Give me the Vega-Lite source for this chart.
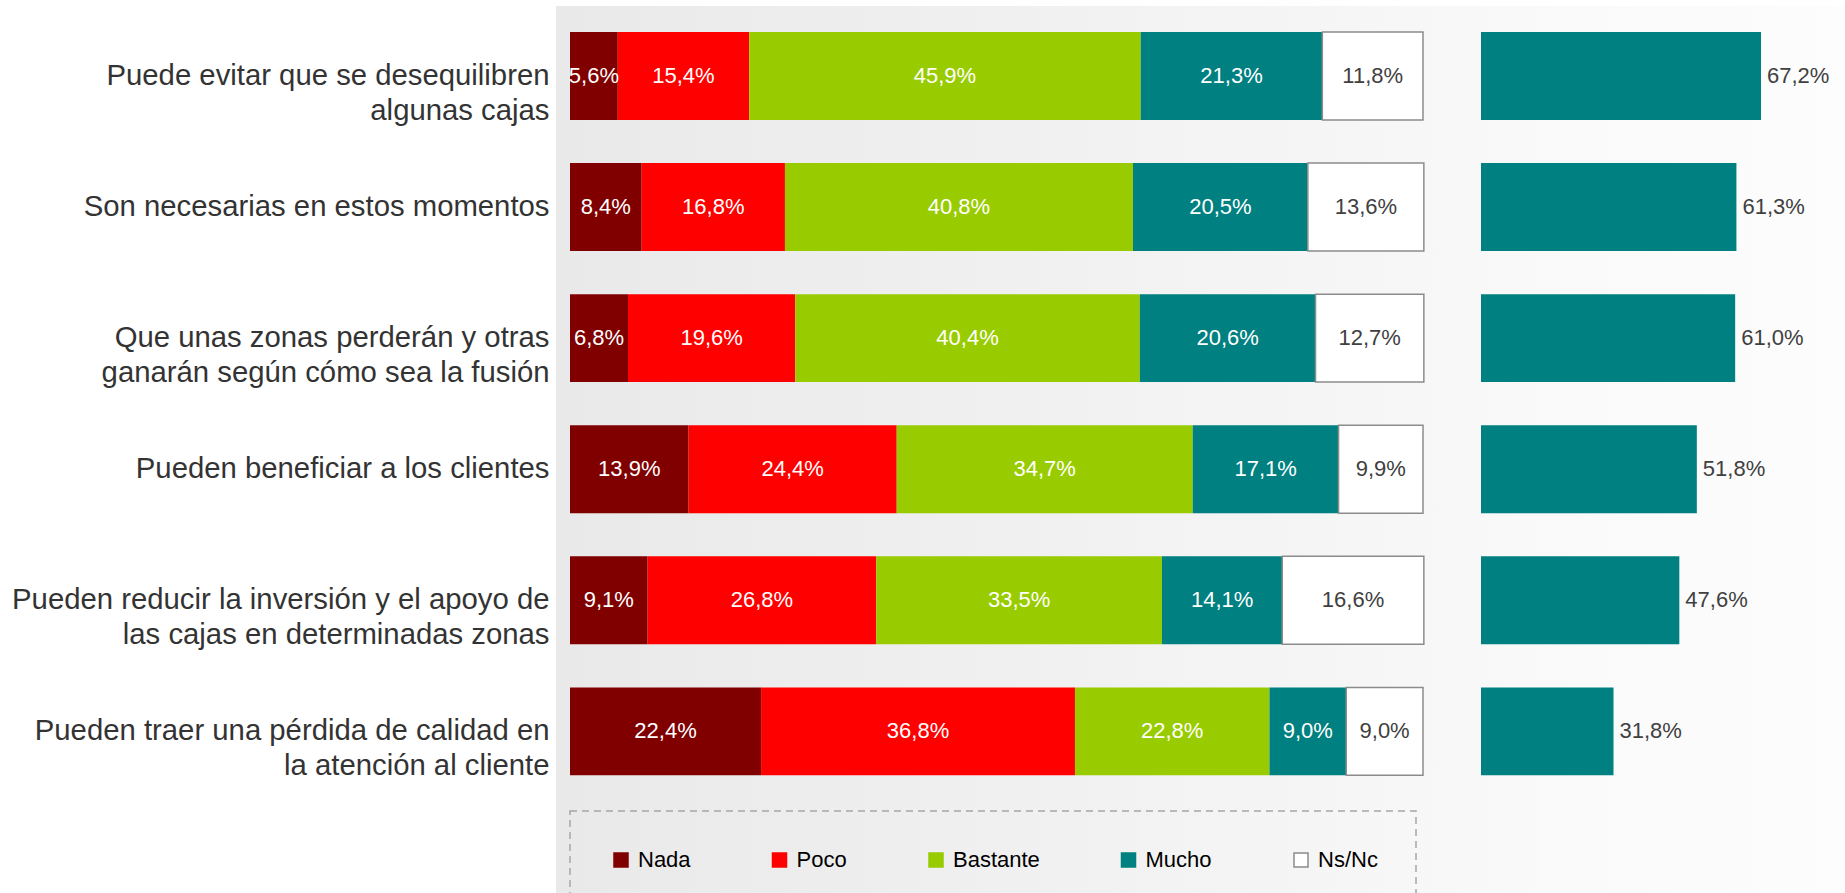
{
  "$schema": "https://vega.github.io/schema/vega-lite/v6.json",
  "width": 1289,
  "height": 887,
  "padding": {"left": 6, "top": 6, "right": 0, "bottom": 0},
  "background": "#ffffff",
  "view": {
    "stroke": null,
    "fill": {
      "gradient": "linear",
      "x1": 0, "y1": 0, "x2": 1, "y2": 0,
      "stops": [
        {"offset": 0, "color": "#e9e9e9"},
        {"offset": 0.4, "color": "#f1f1f1"},
        {"offset": 0.75, "color": "#f9f9f9"},
        {"offset": 1, "color": "#fdfdfd"}
      ]
    }
  },
  "datasets": {
    "stack": [
      {"q": "Puede evitar que se desequilibren|algunas cajas", "cat": "Nada", "order": 1, "value": 5.6},
      {"q": "Puede evitar que se desequilibren|algunas cajas", "cat": "Poco", "order": 2, "value": 15.4},
      {"q": "Puede evitar que se desequilibren|algunas cajas", "cat": "Bastante", "order": 3, "value": 45.9},
      {"q": "Puede evitar que se desequilibren|algunas cajas", "cat": "Mucho", "order": 4, "value": 21.3},
      {"q": "Puede evitar que se desequilibren|algunas cajas", "cat": "Ns/Nc", "order": 5, "value": 11.8},
      {"q": "Son necesarias en estos momentos", "cat": "Nada", "order": 1, "value": 8.4},
      {"q": "Son necesarias en estos momentos", "cat": "Poco", "order": 2, "value": 16.8},
      {"q": "Son necesarias en estos momentos", "cat": "Bastante", "order": 3, "value": 40.8},
      {"q": "Son necesarias en estos momentos", "cat": "Mucho", "order": 4, "value": 20.5},
      {"q": "Son necesarias en estos momentos", "cat": "Ns/Nc", "order": 5, "value": 13.6},
      {"q": "Que unas zonas perderán y otras|ganarán según cómo sea la fusión", "cat": "Nada", "order": 1, "value": 6.8},
      {"q": "Que unas zonas perderán y otras|ganarán según cómo sea la fusión", "cat": "Poco", "order": 2, "value": 19.6},
      {"q": "Que unas zonas perderán y otras|ganarán según cómo sea la fusión", "cat": "Bastante", "order": 3, "value": 40.4},
      {"q": "Que unas zonas perderán y otras|ganarán según cómo sea la fusión", "cat": "Mucho", "order": 4, "value": 20.6},
      {"q": "Que unas zonas perderán y otras|ganarán según cómo sea la fusión", "cat": "Ns/Nc", "order": 5, "value": 12.7},
      {"q": "Pueden beneficiar a los clientes", "cat": "Nada", "order": 1, "value": 13.9},
      {"q": "Pueden beneficiar a los clientes", "cat": "Poco", "order": 2, "value": 24.4},
      {"q": "Pueden beneficiar a los clientes", "cat": "Bastante", "order": 3, "value": 34.7},
      {"q": "Pueden beneficiar a los clientes", "cat": "Mucho", "order": 4, "value": 17.1},
      {"q": "Pueden beneficiar a los clientes", "cat": "Ns/Nc", "order": 5, "value": 9.9},
      {"q": "Pueden reducir la inversión y el apoyo de|las cajas en determinadas zonas", "cat": "Nada", "order": 1, "value": 9.1},
      {"q": "Pueden reducir la inversión y el apoyo de|las cajas en determinadas zonas", "cat": "Poco", "order": 2, "value": 26.8},
      {"q": "Pueden reducir la inversión y el apoyo de|las cajas en determinadas zonas", "cat": "Bastante", "order": 3, "value": 33.5},
      {"q": "Pueden reducir la inversión y el apoyo de|las cajas en determinadas zonas", "cat": "Mucho", "order": 4, "value": 14.1},
      {"q": "Pueden reducir la inversión y el apoyo de|las cajas en determinadas zonas", "cat": "Ns/Nc", "order": 5, "value": 16.6},
      {"q": "Pueden traer una pérdida de calidad en|la atención al cliente", "cat": "Nada", "order": 1, "value": 22.4},
      {"q": "Pueden traer una pérdida de calidad en|la atención al cliente", "cat": "Poco", "order": 2, "value": 36.8},
      {"q": "Pueden traer una pérdida de calidad en|la atención al cliente", "cat": "Bastante", "order": 3, "value": 22.8},
      {"q": "Pueden traer una pérdida de calidad en|la atención al cliente", "cat": "Mucho", "order": 4, "value": 9.0},
      {"q": "Pueden traer una pérdida de calidad en|la atención al cliente", "cat": "Ns/Nc", "order": 5, "value": 9.0}
    ],
    "total": [
      {"q": "Puede evitar que se desequilibren|algunas cajas", "total": 67.2},
      {"q": "Son necesarias en estos momentos", "total": 61.3},
      {"q": "Que unas zonas perderán y otras|ganarán según cómo sea la fusión", "total": 61.0},
      {"q": "Pueden beneficiar a los clientes", "total": 51.8},
      {"q": "Pueden reducir la inversión y el apoyo de|las cajas en determinadas zonas", "total": 47.6},
      {"q": "Pueden traer una pérdida de calidad en|la atención al cliente", "total": 31.8}
    ]
  },
  "encoding": {
    "y": {
      "field": "q",
      "type": "nominal",
      "scale": {
        "domain": [
          "Puede evitar que se desequilibren|algunas cajas",
          "Son necesarias en estos momentos",
          "Que unas zonas perderán y otras|ganarán según cómo sea la fusión",
          "Pueden beneficiar a los clientes",
          "Pueden reducir la inversión y el apoyo de|las cajas en determinadas zonas",
          "Pueden traer una pérdida de calidad en|la atención al cliente"
        ],
        "paddingInner": 0.329,
        "paddingOuter": 0.548,
        "align": 0.181
      },
      "axis": {
        "title": null,
        "ticks": false,
        "domain": false,
        "grid": false,
        "labelFont": "Liberation Sans",
        "labelFontSize": 29.3,
        "labelColor": "#333333",
        "labelPadding": 7,
        "labelLimit": 700,
        "labelLineHeight": 35,
        "labelExpr": "split(datum.label, '|')",
        "minExtent": 550,
        "maxExtent": 550
      }
    }
  },
  "layer": [
    {
      "data": {"name": "stack"},
      "mark": {"type": "bar"},
      "encoding": {
        "x": {
          "field": "value",
          "type": "quantitative",
          "stack": "zero",
          "scale": {"domain": [-1.6413, 149.472], "nice": false, "zero": true},
          "axis": null
        },
        "color": {
          "field": "cat",
          "type": "nominal",
          "scale": {
            "domain": ["Nada", "Poco", "Bastante", "Mucho", "Ns/Nc"],
            "range": ["#800000", "#ff0000", "#99cc00", "#008080", "#ffffff"]
          },
          "legend": {
            "orient": "none",
            "legendX": 14,
            "legendY": 805,
            "direction": "horizontal",
            "columns": 5,
            "title": null,
            "symbolType": "square",
            "symbolSize": 196,
            "symbolStrokeWidth": 1.5,
            "symbolOffset": 2,
            "labelFont": "Liberation Sans",
            "labelFontSize": 22,
            "labelColor": "#000000",
            "labelOffset": 6,
            "labelLimit": 300,
            "columnPadding": 75.5,
            "padding": 38,
            "strokeColor": "#a6a6a6",
            "encode": {"legend": {"update": {"strokeDash": {"value": [7, 5]}, "strokeWidth": {"value": 1.5}}}}
          }
        },
        "stroke": {
          "field": "cat",
          "type": "nominal",
          "scale": {
            "domain": ["Nada", "Poco", "Bastante", "Mucho", "Ns/Nc"],
            "range": ["#800000", "#ff0000", "#99cc00", "#008080", "#8c8c8c"]
          },
          "legend": {
            "orient": "none",
            "legendX": 14,
            "legendY": 805,
            "direction": "horizontal",
            "columns": 5,
            "title": null,
            "symbolType": "square",
            "symbolSize": 196,
            "symbolStrokeWidth": 1.5,
            "symbolOffset": 2,
            "labelFont": "Liberation Sans",
            "labelFontSize": 22,
            "labelColor": "#000000",
            "labelOffset": 6,
            "labelLimit": 300,
            "columnPadding": 75.5,
            "padding": 38,
            "strokeColor": "#a6a6a6",
            "encode": {"legend": {"update": {"strokeDash": {"value": [7, 5]}, "strokeWidth": {"value": 1.5}}}}
          }
        },
        "strokeWidth": {"condition": {"test": "datum.cat === 'Ns/Nc'", "value": 1.5}, "value": 0},
        "order": {"field": "order", "type": "quantitative"}
      }
    },
    {
      "data": {"name": "stack"},
      "transform": [
        {"stack": "value", "groupby": ["q"], "sort": [{"field": "order", "order": "ascending"}], "as": ["s0", "s1"]},
        {"fold": ["s0", "s1"], "as": ["edge", "pos"]},
        {"aggregate": [{"op": "mean", "field": "pos", "as": "mid"}], "groupby": ["q", "cat", "value"]}
      ],
      "mark": {"type": "text", "font": "Liberation Sans", "fontSize": 22, "align": "center", "baseline": "middle"},
      "encoding": {
        "x": {
          "field": "mid",
          "type": "quantitative",
          "scale": {"domain": [-1.6413, 149.472], "nice": false, "zero": true},
          "axis": null
        },
        "text": {"field": "value", "type": "quantitative", "format": "$.1f"},
        "color": {"condition": {"test": "datum.cat === 'Ns/Nc'", "value": "#404040"}, "value": "#ffffff"}
      }
    },
    {
      "data": {"name": "total"},
      "mark": {"type": "bar", "color": "#008080"},
      "encoding": {
        "x": {
          "field": "total",
          "type": "quantitative",
          "scale": {"domain": [-222.0, 87.36], "nice": false, "zero": true},
          "axis": null
        }
      }
    },
    {
      "data": {"name": "total"},
      "mark": {"type": "text", "font": "Liberation Sans", "fontSize": 22, "align": "left", "baseline": "middle", "dx": 6, "color": "#404040"},
      "encoding": {
        "x": {
          "field": "total",
          "type": "quantitative",
          "scale": {"domain": [-222.0, 87.36], "nice": false, "zero": true},
          "axis": null
        },
        "text": {"field": "total", "type": "quantitative", "format": "$.1f"}
      }
    }
  ],
  "resolve": {"scale": {"x": "independent"}},
  "config": {
    "font": "Liberation Sans",
    "locale": {
      "number": {"decimal": ",", "thousands": ".", "grouping": [3], "currency": ["", "%"]}
    }
  }
}
